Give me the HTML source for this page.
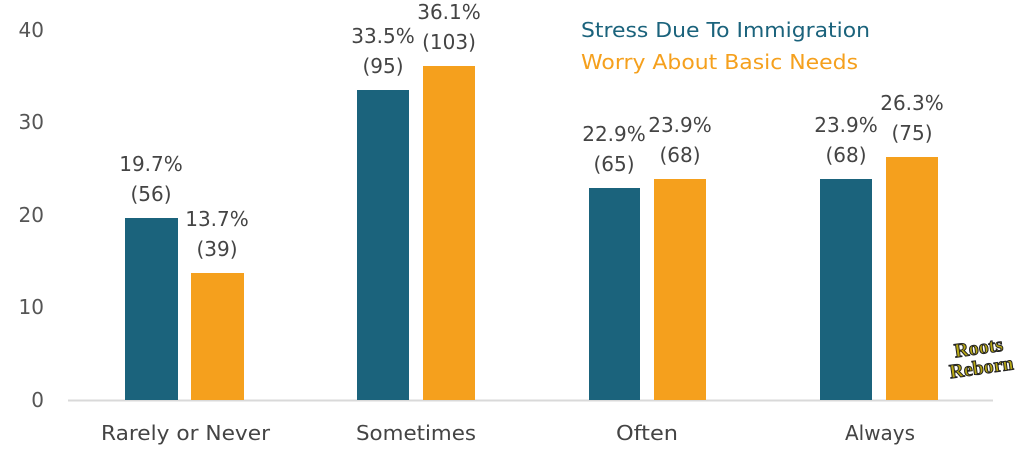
<!DOCTYPE html>
<html><head><meta charset="utf-8"><style>
body{margin:0;background:#fff}
text{font-family:"DejaVu Sans","Liberation Sans",sans-serif}
</style></head><body>
<svg width="1024" height="464" xmlns="http://www.w3.org/2000/svg">
<line x1="68" y1="400.5" x2="993" y2="400.5" stroke="#d9d9d9" stroke-width="2"/>
<g font-size="20" fill="#555" text-anchor="end">
<text x="44" y="37">40</text><text x="44" y="129">30</text><text x="44" y="222">20</text><text x="44" y="314">10</text><text x="44" y="407">0</text>
</g>
<g fill="#1b637c">
<rect x="125" y="218" width="53" height="182"/>
<rect x="357" y="90" width="52" height="310"/>
<rect x="589" y="188" width="51" height="212"/>
<rect x="820" y="179" width="52" height="221"/>
</g>
<g fill="#f5a01d">
<rect x="191" y="273" width="53" height="127"/>
<rect x="423" y="66" width="52" height="334"/>
<rect x="654" y="179" width="52" height="221"/>
<rect x="886" y="157" width="52" height="243"/>
</g>
<g font-size="20" fill="#444" text-anchor="middle">
<text x="151" y="171">19.7%</text><text x="151" y="201">(56)</text>
<text x="217" y="226">13.7%</text><text x="217" y="256">(39)</text>
<text x="383" y="43">33.5%</text><text x="383" y="73">(95)</text>
<text x="449" y="19">36.1%</text><text x="449" y="49">(103)</text>
<text x="614" y="141">22.9%</text><text x="614" y="171">(65)</text>
<text x="680" y="132">23.9%</text><text x="680" y="162">(68)</text>
<text x="846" y="132">23.9%</text><text x="846" y="162">(68)</text>
<text x="912" y="110">26.3%</text><text x="912" y="140">(75)</text>
</g>
<g font-size="20" fill="#444">
<text x="101" y="440" textLength="169" lengthAdjust="spacingAndGlyphs">Rarely or Never</text>
<text x="356" y="440" textLength="120" lengthAdjust="spacingAndGlyphs">Sometimes</text>
<text x="616" y="440" textLength="62" lengthAdjust="spacingAndGlyphs">Often</text>
<text x="845" y="440" textLength="70" lengthAdjust="spacingAndGlyphs">Always</text>
</g>
<text x="581" y="37" font-size="20" fill="#1b637c" textLength="289" lengthAdjust="spacingAndGlyphs">Stress Due To Immigration</text>
<text x="581" y="69" font-size="20" fill="#f5a01d" textLength="277" lengthAdjust="spacingAndGlyphs">Worry About Basic Needs</text>
<g transform="translate(980,358) rotate(-8)" text-anchor="middle" font-weight="bold" fill="#b8a814" stroke="#222" stroke-width="1">
<text x="0" y="-4" font-size="20" style="font-family:'Liberation Serif',serif">Roots</text>
<text x="0" y="16" font-size="20" style="font-family:'Liberation Serif',serif">Reborn</text>
</g>
</svg>
</body></html>
